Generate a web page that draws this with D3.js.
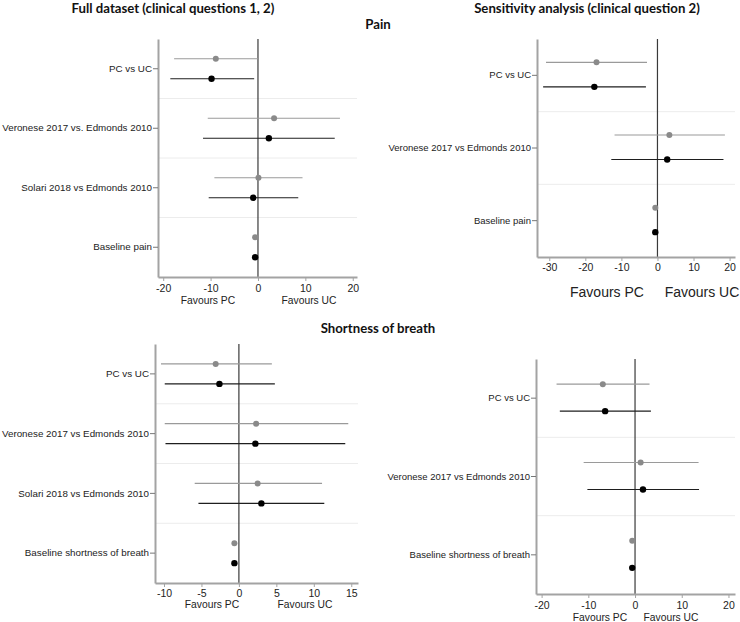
<!DOCTYPE html>
<html><head><meta charset="utf-8">
<script src="https://cdn.jsdelivr.net/npm/d3@7"></script>
<style>body{margin:0;background:#fff}svg{display:block}</style>
</head><body>
<svg id="c" width="740" height="622"></svg>
<script>
// ---------- DATA ----------
// Panel A: Pain, full dataset
const painFullLabels = ["PC vs UC","Veronese 2017 vs. Edmonds 2010","Solari 2018 vs Edmonds 2010","Baseline pain"];
const painFullGreyEst = [-8.9, 3.4, 0.1, -0.6];
const painFullGreyLo  = [-17.7, -10.6, -9.2, -0.7];
const painFullGreyHi  = [0.0, 17.3, 9.4, -0.5];
const painFullBlackEst = [-9.8, 2.3, -1.0, -0.6];
const painFullBlackLo  = [-18.5, -11.6, -10.4, -0.7];
const painFullBlackHi  = [-0.8, 16.2, 8.5, -0.5];
const painFullTicks = [-20, -10, 0, 10, 20];

// Panel B: Pain, sensitivity analysis
const painSensLabels = ["PC vs UC","Veronese 2017 vs Edmonds 2010","Baseline pain"];
const painSensGreyEst = [-16.9, 3.3, -0.6];
const painSensGreyLo  = [-30.9, -11.9, -0.7];
const painSensGreyHi  = [-2.9, 18.7, -0.5];
const painSensBlackEst = [-17.5, 2.7, -0.6];
const painSensBlackLo  = [-31.7, -12.8, -0.7];
const painSensBlackHi  = [-3.2, 18.3, -0.5];
const painSensTicks = [-30, -20, -10, 0, 10, 20];

// Panel C: Shortness of breath, full dataset
const sobFullLabels = ["PC vs UC","Veronese 2017 vs Edmonds 2010","Solari 2018 vs Edmonds 2010","Baseline shortness of breath"];
const sobFullGreyEst = [-3.1, 2.3, 2.5, -0.6];
const sobFullGreyLo  = [-10.4, -9.9, -5.9, -0.7];
const sobFullGreyHi  = [4.4, 14.6, 11.1, -0.5];
const sobFullBlackEst = [-2.6, 2.2, 3.0, -0.6];
const sobFullBlackLo  = [-9.9, -9.8, -5.4, -0.7];
const sobFullBlackHi  = [4.8, 14.2, 11.4, -0.5];
const sobFullTicks = [-10, -5, 0, 5, 10, 15];

// Panel D: Shortness of breath, sensitivity analysis
const sobSensLabels = ["PC vs UC","Veronese 2017 vs Edmonds 2010","Baseline shortness of breath"];
const sobSensGreyEst = [-6.9, 1.2, -0.6];
const sobSensGreyLo  = [-16.8, -11.0, -0.7];
const sobSensGreyHi  = [3.1, 13.6, -0.5];
const sobSensBlackEst = [-6.4, 1.7, -0.6];
const sobSensBlackLo  = [-16.1, -10.2, -0.7];
const sobSensBlackHi  = [3.4, 13.7, -0.5];
const sobSensTicks = [-20, -10, 0, 10, 20];

const favourLabels = ["Favours PC", "Favours UC"];

// ---------- LAYOUT ----------
const svg = d3.select("#c");
const GREY_LINE = "#9a9a9a", GREY_DOT = "#8a8a8a", BLACK_LINE = "#1e1e1e", BLACK_DOT = "#000";
const AXIS = "#a3a3a3";

function series(est, lo, hi){ return est.map((e,i)=>({est:e, lo:lo[i], hi:hi[i]})); }

const panels = [
  {labels: painFullLabels, grey: series(painFullGreyEst,painFullGreyLo,painFullGreyHi),
   black: series(painFullBlackEst,painFullBlackLo,painFullBlackHi), ticks: painFullTicks,
   x0:158, x1:357, y0:39, y1:277, dom:[-21.1,20.9], gOff:-10, bOff:10,
   labFs:9.8, tickFs:10.5, favFs:10.3, tickBase:292, favBase:304, favX:[208,309]},
  {labels: painSensLabels, grey: series(painSensGreyEst,painSensGreyLo,painSensGreyHi),
   black: series(painSensBlackEst,painSensBlackLo,painSensBlackHi), ticks: painSensTicks,
   x0:537, x1:735, y0:39, y1:257, dom:[-33.4,21.5], gOff:-13, bOff:11.5,
   labFs:9.5, tickFs:10.5, favFs:14, tickBase:271, favBase:297, favX:[607,702]},
  {labels: sobFullLabels, grey: series(sobFullGreyEst,sobFullGreyLo,sobFullGreyHi),
   black: series(sobFullBlackEst,sobFullBlackLo,sobFullBlackHi), ticks: sobFullTicks,
   x0:155, x1:358, y0:344, y1:583, dom:[-11.2,15.9], gOff:-10, bOff:10,
   labFs:9.8, tickFs:10.5, favFs:10.3, tickBase:597, favBase:608, favX:[212,305]},
  {labels: sobSensLabels, grey: series(sobSensGreyEst,sobSensGreyLo,sobSensGreyHi),
   black: series(sobSensBlackEst,sobSensBlackLo,sobSensBlackHi), ticks: sobSensTicks,
   x0:536, x1:735, y0:359, y1:594, dom:[-21.2,21.4], gOff:-14, bOff:13,
   labFs:9.5, tickFs:10.5, favFs:10.3, tickBase:609, favBase:621, favX:[600,671]}
];

const FONT = "'Liberation Sans', Arial, sans-serif";

panels.forEach(p => {
  const x = d3.scaleLinear().domain(p.dom).range([p.x0, p.x1]);
  const y = d3.scaleBand().domain(p.labels).range([p.y0, p.y1]).padding(0);
  const g = svg.append("g");

  // separators
  p.labels.slice(1).forEach(l => {
    g.append("line").attr("x1", p.x0).attr("x2", p.x1)
      .attr("y1", y(l)).attr("y2", y(l))
      .attr("stroke", "#ececec").attr("stroke-width", 1);
  });

  // zero line
  g.append("line").attr("x1", x(0)).attr("x2", x(0)).attr("y1", p.y0).attr("y2", p.y1)
    .attr("stroke", "#3a3a3a").attr("stroke-width", 1.2);

  // x axis
  const xa = g.append("g").attr("transform", `translate(0,${p.y1})`)
    .call(d3.axisBottom(x).tickValues(p.ticks).tickSize(4).tickSizeOuter(0).tickFormat(d => String(d)));
  xa.select(".domain").attr("stroke", AXIS).attr("stroke-width", 2);
  xa.selectAll(".tick line").attr("stroke", AXIS);
  xa.selectAll(".tick text").attr("font-family", FONT).attr("font-size", p.tickFs)
    .attr("fill", "#222").attr("y", null).attr("dy", null)
    .attr("transform", `translate(0,${p.tickBase - p.y1})`);

  // y axis
  const ya = g.append("g").attr("transform", `translate(${p.x0},0)`)
    .call(d3.axisLeft(y).tickSize(5).tickSizeOuter(0).tickPadding(1));
  ya.select(".domain").attr("stroke", AXIS).attr("stroke-width", 2);
  ya.selectAll(".tick line").attr("stroke", "#777");
  ya.selectAll(".tick text").attr("font-family", FONT).attr("font-size", p.labFs).attr("fill", "#222");

  const c = l => y(l) + y.bandwidth()/2;

  // grey series
  const gd = p.labels.map((l,i)=>({l, ...p.grey[i]}));
  g.selectAll(".gci").data(gd).enter().append("line")
    .attr("x1", d=>x(d.lo)).attr("x2", d=>x(d.hi))
    .attr("y1", d=>c(d.l)+p.gOff).attr("y2", d=>c(d.l)+p.gOff)
    .attr("stroke", GREY_LINE).attr("stroke-width", 1.2);
  g.selectAll(".gpt").data(gd).enter().append("circle")
    .attr("cx", d=>x(d.est)).attr("cy", d=>c(d.l)+p.gOff).attr("r", 3)
    .attr("fill", GREY_DOT);

  // black series
  const bd = p.labels.map((l,i)=>({l, ...p.black[i]}));
  g.selectAll(".bci").data(bd).enter().append("line")
    .attr("x1", d=>x(d.lo)).attr("x2", d=>x(d.hi))
    .attr("y1", d=>c(d.l)+p.bOff).attr("y2", d=>c(d.l)+p.bOff)
    .attr("stroke", BLACK_LINE).attr("stroke-width", 1.2);
  g.selectAll(".bpt").data(bd).enter().append("circle")
    .attr("cx", d=>x(d.est)).attr("cy", d=>c(d.l)+p.bOff).attr("r", 3.2)
    .attr("fill", BLACK_DOT);

  // favours labels
  favourLabels.forEach((t,i) => {
    g.append("text").attr("x", p.favX[i]).attr("y", p.favBase)
      .attr("text-anchor", "middle").attr("font-family", FONT)
      .attr("font-size", p.favFs).attr("fill", "#222").text(t);
  });
});

// titles
const TFONT = "Lato, 'Open Sans', sans-serif";
[["Full dataset (clinical questions 1, 2)", 173, 13],
 ["Sensitivity analysis (clinical question 2)", 587, 13],
 ["Pain", 378, 29],
 ["Shortness of breath", 378, 333]].forEach(([t,xx,yy]) => {
  svg.append("text").attr("x", xx).attr("y", yy).attr("text-anchor","middle")
    .attr("font-family", TFONT).attr("font-weight", "bold").attr("font-size", 13.2)
    .attr("fill", "#111").text(t);
});
</script>
</body></html>
